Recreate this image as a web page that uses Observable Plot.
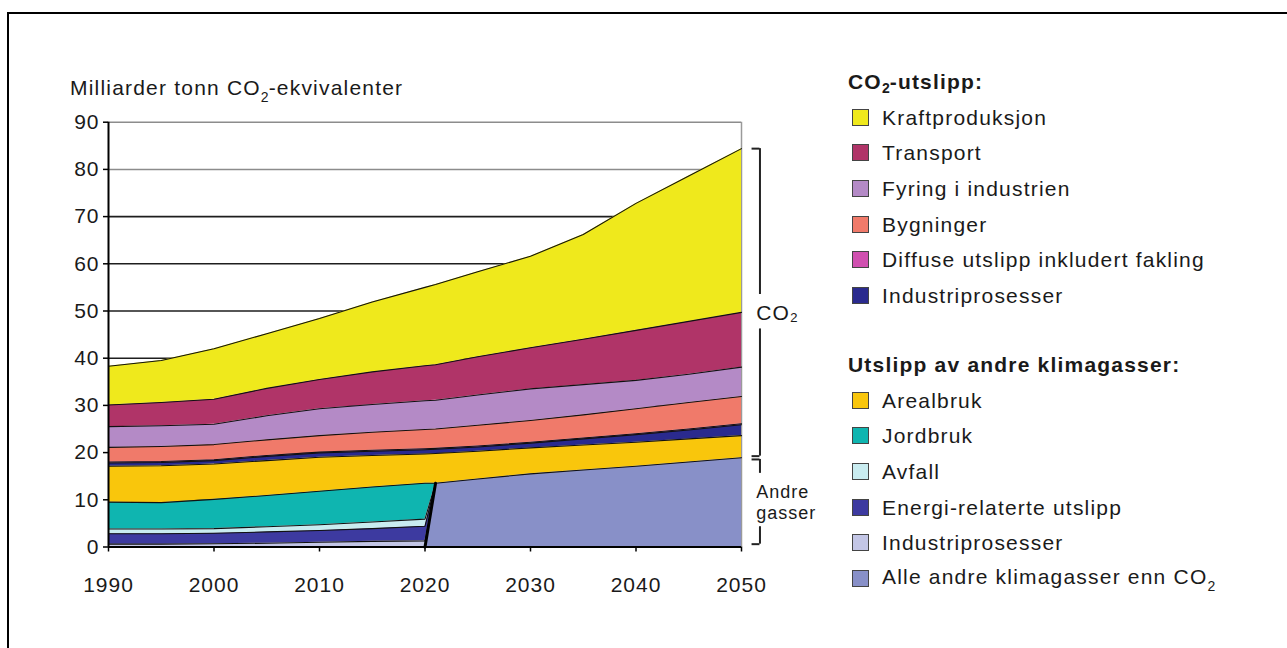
<!DOCTYPE html>
<html>
<head>
<meta charset="utf-8">
<script src="https://cdn.jsdelivr.net/npm/d3@7"></script>
<script src="https://cdn.jsdelivr.net/npm/@observablehq/plot@0.6"></script>
<style>
  body { margin: 0; width: 1287px; height: 648px; overflow: hidden; background: #fff; position: relative;
         font-family: "Liberation Sans", Arial, sans-serif; color: #1a1a1a; }
  #frame { position: absolute; left: 7px; top: 12px; width: 1300px; height: 700px;
           border-top: 2px solid #000; border-left: 2px solid #000; }
  #chart { position: absolute; left: 0; top: 0; }
  #chart svg text { letter-spacing: 1px; }
  .ytitle { position: absolute; left: 70px; top: 77px; font-size: 21px; line-height: 21px;
            letter-spacing: 1.2px; white-space: nowrap; }
  .sub { font-size: 14px; position: relative; top: 7px; letter-spacing: 0; }
  .legend { position: absolute; left: 848px; font-size: 21px; letter-spacing: 1.2px; white-space: nowrap; }
  .legend .row { height: 35.6px; display: flex; align-items: center; line-height: 21px; }
  .legend .head { font-weight: bold; }
  .sw { width: 15px; height: 15px; border: 1px solid #444; margin-left: 4px; margin-right: 13px; flex: none; }
</style>
</head>
<body>
<div id="frame"></div>
<div id="chart"></div>
<div class="ytitle">Milliarder tonn CO<span class="sub">2</span>-ekvivalenter</div>
<div class="legend" id="legendCO2" style="top:64px"></div>
<div class="legend" id="legendOther" style="top:347px"></div>
<script>
// Years on the horizontal axis (2021 marks where the detailed non-CO2 split ends)
const years = [1990, 1995, 2000, 2005, 2010, 2015, 2020, 2021, 2025, 2030, 2035, 2040, 2045, 2050];

// Emissions per source, billion tonnes CO2-equivalents
// Other greenhouse gases, detailed until 2020
const industriAndre = [0.6, 0.6, 0.7, 0.8, 1.0, 1.2, 1.3, 0, null, null, null, null, null, null];
const energi        = [2.2, 2.2, 2.2, 2.4, 2.5, 2.7, 3.1, 0, null, null, null, null, null, null];
const avfall        = [1.0, 1.0, 1.0, 1.1, 1.2, 1.4, 1.5, 0, null, null, null, null, null, null];
const jordbruk      = [5.7, 5.6, 6.2, 6.6, 7.1, 7.4, 7.6, 0, null, null, null, null, null, null];
// Other greenhouse gases combined, from 2020
const alleAndre     = [null, null, null, null, null, null, 0, 13.5, 14.4, 15.5, 16.3, 17.1, 18.0, 18.9];
const arealbruk     = [7.6, 7.8, 7.5, 7.4, 7.2, 6.7, 6.2, 6.3, 5.9, 5.5, 5.3, 5.1, 4.9, 4.7];
// CO2 emissions
const industriCO2   = [0.7, 0.7, 0.7, 0.9, 0.9, 0.9, 0.9, 0.9, 0.9, 1.0, 1.3, 1.6, 1.9, 2.3];
const diffuse       = [0.2, 0.2, 0.2, 0.2, 0.2, 0.2, 0.2, 0.2, 0.2, 0.2, 0.2, 0.2, 0.2, 0.2];
const bygninger     = [3.1, 3.2, 3.2, 3.3, 3.5, 3.8, 4.1, 4.1, 4.4, 4.6, 4.9, 5.3, 5.6, 5.8];
const fyring        = [4.4, 4.4, 4.3, 5.1, 5.7, 5.9, 6.1, 6.1, 6.4, 6.7, 6.4, 6.0, 6.0, 6.2];
const transport     = [4.6, 4.9, 5.3, 5.8, 6.2, 6.9, 7.4, 7.5, 8.1, 8.7, 9.6, 10.6, 11.2, 11.6];
const kraft         = [8.2, 8.9, 10.7, 11.6, 12.9, 14.8, 16.6, 17.0, 18.0, 19.4, 22.2, 26.9, 30.8, 34.7];

// Stacking order, bottom to top
const stackOrder = ["alleAndre", "industriAndre", "energi", "avfall", "jordbruk", "arealbruk",
                    "industriCO2", "diffuse", "bygninger", "fyring", "transport", "kraft"];
const valuesByKey = { alleAndre, industriAndre, energi, avfall, jordbruk, arealbruk,
                      industriCO2, diffuse, bygninger, fyring, transport, kraft };
const colors = ["#8890c8", "#c3c6e6", "#3d3aa0", "#c9ecf0", "#0fb5b0", "#f9c60c",
                "#2a2a8e", "#d050b0", "#f07a6a", "#b48ac6", "#b03468", "#efe91c"];

// Legend entries, top to bottom
const legendCO2Keys = ["kraft", "transport", "fyring", "bygninger", "diffuse", "industriCO2"];
const legendCO2Labels = ["Kraftproduksjon", "Transport", "Fyring i industrien", "Bygninger",
                         "Diffuse utslipp inkludert fakling", "Industriprosesser"];
const legendOtherKeys = ["arealbruk", "jordbruk", "avfall", "energi", "industriAndre", "alleAndre"];
const legendOtherLabels = ["Arealbruk", "Jordbruk", "Avfall", "Energi-relaterte utslipp",
                           "Industriprosesser", "Alle andre klimagasser enn CO<span class=\"sub\">2</span>"];

const yTicks = [0, 10, 20, 30, 40, 50, 60, 70, 80, 90];
const xTicks = [1990, 2000, 2010, 2020, 2030, 2040, 2050];

// Long-format table for the stacked areas
const rows = [];
for (const key of stackOrder) {
  valuesByKey[key].forEach((v, i) => { if (v != null) rows.push({year: years[i], key, value: v}); });
}

const last = a => a[a.length - 1];
const co2Top = d3.sum(stackOrder, k => last(valuesByKey[k]));
const sep = last(alleAndre);
const bx = 2051.75, sx = 2051.0;

const stackOpts = {x: "year", y: "value", z: "key", order: stackOrder};

const chart = Plot.plot({
  width: 840,
  height: 620,
  marginLeft: 108,
  marginRight: 99,
  marginTop: 121.7,
  marginBottom: 73.5,
  style: {fontFamily: "Liberation Sans, Arial, sans-serif", fontSize: "21px", background: "none", overflow: "visible", color: "#1a1a1a"},
  x: {domain: [1990, 2050], label: null},
  y: {domain: [0, 90], label: null},
  color: {domain: stackOrder, range: colors},
  marks: [
    Plot.ruleY([10, 20, 30, 40, 50, 60, 70], {stroke: "#1e1e1e", strokeWidth: 1.6}),
    Plot.ruleY([80, 90], {stroke: "#8c8c8c", strokeWidth: 1.5}),
    Plot.ruleX([2050], {y1: 0, y2: 90, stroke: "#9a9a9a", strokeWidth: 1.5}),
    Plot.areaY(rows, Plot.stackY({...stackOpts, fill: "key"})),
    Plot.lineY(rows, Plot.stackY2({...stackOpts, stroke: "#111", strokeWidth: 1.1})),
    Plot.lineY(rows.filter(d => d.key === "alleAndre" && d.year <= 2021),
               {x: "year", y: "value", stroke: "#000", strokeWidth: 3}),
    Plot.ruleX([1990], {y1: 0, y2: 90, stroke: "#000", strokeWidth: 2}),
    Plot.ruleY([0], {stroke: "#000", strokeWidth: 2}),
    Plot.axisY({ticks: yTicks, tickSize: 5, tickPadding: 4, stroke: "#000", strokeWidth: 1.5, fill: "#1a1a1a", fontSize: 21, label: null}),
    Plot.axisX({ticks: xTicks, tickSize: 5, tickPadding: 25, stroke: "#000", strokeWidth: 1.5, fill: "#1a1a1a", fontSize: 21, tickFormat: d => String(d), label: null}),
    // Brackets grouping CO2 and the other gases at 2050
    Plot.ruleX([[co2Top, 53.5], [46.2, sep + 0.35], [sep - 0.35, 15.6], [4.3, 0.6]],
               {x: () => bx, y1: d => d[0], y2: d => d[1], stroke: "#222", strokeWidth: 2}),
    Plot.ruleY([co2Top, sep + 0.35, sep - 0.35, 0.6],
               {y: d => d, x1: () => sx, x2: () => bx, stroke: "#222", strokeWidth: 2}),
    Plot.text(["CO₂"], {x: () => 2051.4, y: () => 49.6, text: d => d, textAnchor: "start", fontSize: 21, fill: "#1a1a1a"}),
    Plot.text(["Andre"], {x: () => 2051.4, y: () => 11.6, text: d => d, textAnchor: "start", fontSize: 18, fill: "#1a1a1a"}),
    Plot.text(["gasser"], {x: () => 2051.4, y: () => 7.2, text: d => d, textAnchor: "start", fontSize: 18, fill: "#1a1a1a"})
  ]
});
document.getElementById("chart").append(chart);

// Legends
function buildLegend(el, title, keys, labels) {
  el.innerHTML = `<div class="row head">${title}</div>` + keys.map((k, i) =>
    `<div class="row"><span class="sw" style="background:${colors[stackOrder.indexOf(k)]}"></span><span>${labels[i]}</span></div>`).join("");
}
buildLegend(document.getElementById("legendCO2"), "CO<span class=\"sub\">2</span>-utslipp:", legendCO2Keys, legendCO2Labels);
buildLegend(document.getElementById("legendOther"), "Utslipp av andre klimagasser:", legendOtherKeys, legendOtherLabels);
</script>
</body>
</html>
